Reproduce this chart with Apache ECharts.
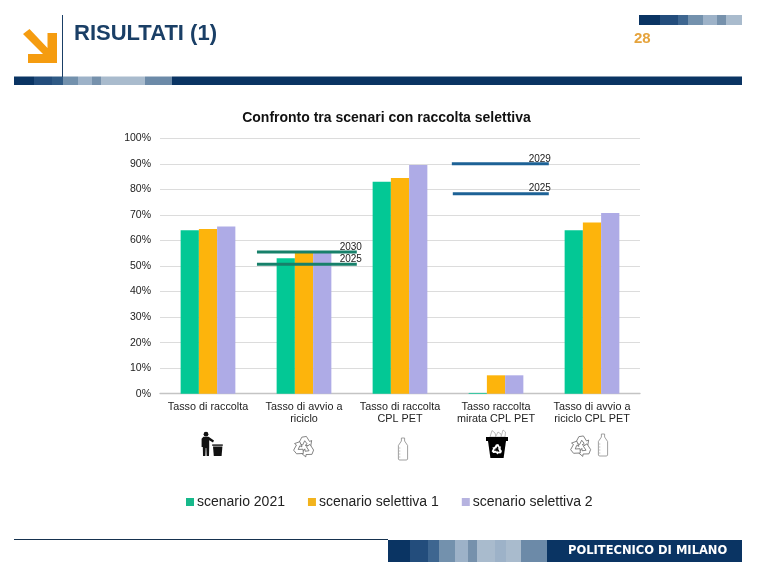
<!DOCTYPE html>
<html>
<head>
<meta charset="utf-8">
<style>
  html, body { margin: 0; padding: 0; background: #fff; }
  #chart { width: 759px; height: 575px; }
</style>
<script src="https://cdn.jsdelivr.net/npm/echarts@6/dist/echarts.min.js"></script>
</head>
<body>
<div id="chart"></div>
<script>
// Collection and recycling rates per scenario (%)
var categories = [
  'Tasso di raccolta',
  'Tasso di avvio a\nriciclo',
  'Tasso di raccolta\nCPL PET',
  'Tasso raccolta\nmirata CPL PET',
  'Tasso di avvio a\nriciclo CPL PET'
];
var scenario2021 = [64, 53, 83, 0.3, 64];
var selettiva1 = [64.5, 55.5, 84.5, 7.2, 67];
var selettiva2 = [65.5, 55.5, 89.5, 7.2, 70.8];
var seriesNames = ['scenario 2021', 'scenario selettiva 1', 'scenario selettiva 2'];

// Regulatory targets: [label, value %, start and end along the category scale]
var recyclingTarget2030 = ['2030', 55.5, 1.01, 2.05];
var recyclingTarget2025 = ['2025', 50.7, 1.01, 2.05];
var petTarget2029 = ['2029', 90, 3.04, 4.05];
var petTarget2025 = ['2025', 78.3, 3.05, 4.05];

var GREEN = '#03c895', ORANGE = '#fdb40c', PURPLE = '#aeabe6';
var NAVY = '#0a3463';
var FONT = '"Liberation Sans", Arial, sans-serif';

function barSeries(name, values, color) {
  return {
    name: name,
    type: 'bar',
    data: values,
    barGap: 0,
    barCategoryGap: '43%',
    itemStyle: { color: color },
    z: 2
  };
}

function targetSeries(target, color, labelShift) {
  return {
    name: 'Target ' + target[0],
    type: 'line',
    xAxisIndex: 1,
    symbol: 'circle',
    symbolSize: 0.1,
    showSymbol: true,
    silent: true,
    z: 5,
    itemStyle: { color: color },
    lineStyle: { color: color, width: 3, cap: 'butt' },
    data: [
      [target[2], target[1]],
      {
        value: [target[3], target[1]],
        label: {
          show: true,
          position: 'top',
          formatter: target[0],
          offset: [labelShift, 5],
          fontFamily: FONT,
          fontSize: 10,
          color: '#222'
        }
      }
    ]
  };
}

// Segmented bands of the slide frame
function band(stops, y, h) {
  var out = [];
  for (var i = 0; i < stops.length; i++) {
    out.push({
      type: 'rect',
      silent: true,
      shape: { x: stops[i][0], y: y, width: stops[i][1] - stops[i][0], height: h },
      style: { fill: stops[i][2] }
    });
  }
  return out;
}

function place(points, x, y, s) {
  return points.map(function (p) { return [x + p[0] * s, y + p[1] * s]; });
}

function poly(points, style) {
  return { type: 'polygon', silent: true, shape: { points: points }, style: style };
}

// Three chasing arrows turned around a common centre
function recycleIcon(cx, cy, s, style) {
  var arrow = [
    [-4.4, -3.2], [-1.8, -8.2], [2, -8.8], [4.6, -4.6], [6.4, -5.4],
    [5.6, -0.8], [1, -1.4], [2.6, -2.6], [0.6, -5.2], [-1.2, -1.6]
  ];
  var out = [];
  for (var k = 0; k < 3; k++) {
    var a = k * 2 * Math.PI / 3;
    out.push(poly(arrow.map(function (p) {
      return [
        cx + s * (p[0] * Math.cos(a) - p[1] * Math.sin(a)),
        cy + s * (p[0] * Math.sin(a) + p[1] * Math.cos(a))
      ];
    }), style));
  }
  return out;
}

function bottleIcon(x, y, s) {
  var outline = [
    [3.4, 0], [6.6, 0], [6.6, 3], [9.6, 7.5], [9.6, 21], [8.8, 22],
    [1.2, 22], [0.4, 21], [0.4, 7.5], [3.4, 3]
  ];
  var out = [poly(place(outline, x, y, s), { fill: '#fff', stroke: '#888', lineWidth: 0.8 })];
  [10, 13, 16, 19].forEach(function (ly) {
    out.push({
      type: 'line', silent: true,
      shape: { x1: x + 0.6 * s, y1: y + ly * s, x2: x + 2.4 * s, y2: y + ly * s },
      style: { stroke: '#aaa', lineWidth: 0.7 }
    });
  });
  return out;
}

function personIcon(x, y) {
  var dark = { fill: '#111' };
  var body = [
    [1.4, 4.8], [6.6, 4.8], [12, 8.6], [11, 10.4], [7.2, 8.2], [7.2, 15],
    [7, 24], [4.6, 24], [4.3, 16], [3.7, 16], [3.4, 24], [1, 24],
    [0.8, 15], [-0.4, 15], [-0.4, 6.8]
  ];
  var can = [[11, 14.4], [20.4, 14.4], [19.6, 24], [11.8, 24]];
  var rim = [[10.2, 12.4], [20.8, 12.4], [20.8, 13.8], [10.2, 13.8]];
  return [
    { type: 'circle', silent: true, shape: { cx: x + 4, cy: y + 2.2, r: 2.4 }, style: dark },
    poly(place(body, x, y, 1), dark),
    poly(place(can, x, y, 1), dark),
    poly(place(rim, x, y, 1), dark)
  ];
}

function binIcon(x, y) {
  var tub = [[2, 4], [20, 4], [17.6, 21], [4.4, 21]];
  var rim = [[0, 0], [22, 0], [22, 4], [0, 4]];
  var litter = [
    [[4, 0], [6, -6.5], [9, -4], [10, 0]],
    [[9.5, 0], [12, -5], [15, -3], [15.5, 0]],
    [[15, 0], [17, -7], [19.5, -5], [19, 0]]
  ];
  var out = litter.map(function (l) {
    return poly(place(l, x, y, 1), { fill: '#fff', stroke: '#aaa', lineWidth: 0.8 });
  });
  out.push(poly(place(tub, x, y, 1), { fill: '#000' }));
  out.push(poly(place(rim, x, y, 1), { fill: '#000' }));
  return out.concat(recycleIcon(x + 11, y + 12.5, 0.62, { fill: '#fff' }));
}

var recycleStyle = { fill: '#fff', stroke: '#666', lineWidth: 0.8 };

var frame = [].concat(
  band([
    [14, 34, '#0a3463'], [34, 52, '#234d7c'], [52, 63, '#2f5a85'], [63, 78, '#7391ad'],
    [78, 92, '#9db2c8'], [92, 101, '#7691ac'], [101, 145, '#a9bbcd'], [145, 172, '#6c8aa8'],
    [172, 742, NAVY]
  ], 76.5, 8.5),
  band([
    [639, 660, '#0a3463'], [660, 678, '#234d7c'], [678, 688, '#3e6690'], [688, 703, '#7391ad'],
    [703, 717, '#9db2c8'], [717, 726, '#7691ac'], [726, 742, '#a9bbcd']
  ], 15, 10),
  band([
    [388, 410, '#0a3463'], [410, 428, '#234d7c'], [428, 439, '#3e6690'], [439, 455, '#7391ad'],
    [455, 468, '#9db2c8'], [468, 477, '#7691ac'], [477, 495, '#a9bbcd'], [495, 506, '#9db2c8'],
    [506, 521, '#a9bbcd'], [521, 547, '#6c8aa8'], [547, 742, NAVY]
  ], 540, 22),
  [
    { type: 'line', silent: true, shape: { x1: 62.5, y1: 15, x2: 62.5, y2: 77 }, style: { stroke: '#1a3f66', lineWidth: 1 } },
    { type: 'line', silent: true, shape: { x1: 14, y1: 539.5, x2: 388, y2: 539.5 }, style: { stroke: '#16324f', lineWidth: 1 } },
    poly([[23, 34], [29.5, 29], [47.5, 48], [47.5, 33], [57, 33], [57, 63], [28, 63], [28, 54], [43, 54]], { fill: '#f59c10' }),
    { type: 'text', silent: true, style: { x: 74, y: 34, text: 'RISULTATI (1)', fill: '#1a3f66', font: 'bold 22px ' + FONT, textVerticalAlign: 'middle' } },
    { type: 'text', silent: true, style: { x: 634, y: 38.5, text: '28', fill: '#e5a33c', font: 'bold 15px ' + FONT, textVerticalAlign: 'middle' } },
    { type: 'text', silent: true, style: { x: 568, y: 551.5, text: 'POLITECNICO DI MILANO', fill: '#fff', font: 'bold 11.5px "DejaVu Sans", sans-serif', textVerticalAlign: 'middle' } }
  ],
  personIcon(202, 432),
  recycleIcon(304, 447, 1.2, recycleStyle),
  bottleIcon(398, 438, 1),
  binIcon(486, 437),
  recycleIcon(581, 446.5, 1.2, recycleStyle),
  bottleIcon(598, 434, 1)
);

var chart = echarts.init(document.getElementById('chart'), null, { renderer: 'canvas' });
chart.setOption({
  animation: false,
  backgroundColor: '#fff',
  title: {
    text: 'Confronto tra scenari con raccolta selettiva',
    left: 386.5,
    top: 111,
    padding: 0,
    textAlign: 'center',
    textStyle: { fontFamily: FONT, fontWeight: 'bold', fontSize: 14, color: '#111' }
  },
  legend: {
    data: [
      { name: seriesNames[0], itemStyle: { color: '#17b98b' } },
      { name: seriesNames[1], itemStyle: { color: '#f2b31d' } },
      { name: seriesNames[2], itemStyle: { color: '#b6b3e0' } }
    ],
    left: 181,
    top: 490,
    itemWidth: 8,
    itemHeight: 8,
    itemGap: 23,
    icon: 'rect',
    textStyle: { fontFamily: FONT, fontSize: 14, color: '#222', padding: [0, 0, 0, -2] }
  },
  grid: { left: 160, top: 138.3, width: 480, height: 255.4 },
  xAxis: [
    {
      type: 'category',
      data: categories,
      axisTick: { show: false },
      axisLine: { lineStyle: { color: '#c4c4c4', width: 1.4 } },
      axisLabel: {
        interval: 0,
        fontFamily: FONT,
        fontSize: 10.8,
        lineHeight: 12,
        color: '#222',
        margin: 7
      }
    },
    { type: 'value', min: 0, max: 5, show: false }
  ],
  yAxis: {
    type: 'value',
    min: 0,
    max: 100,
    interval: 10,
    axisLine: { show: false },
    axisTick: { show: false },
    axisLabel: { formatter: '{value}%', fontFamily: FONT, fontSize: 10.5, color: '#222', margin: 9 },
    splitLine: { lineStyle: { color: '#dcdcdc', width: 1.2 } }
  },
  series: [
    barSeries(seriesNames[0], scenario2021, GREEN),
    barSeries(seriesNames[1], selettiva1, ORANGE),
    barSeries(seriesNames[2], selettiva2, PURPLE),
    targetSeries(recyclingTarget2030, '#17806a', -6),
    targetSeries(recyclingTarget2025, '#17806a', -6),
    targetSeries(petTarget2029, '#1d6296', -9),
    targetSeries(petTarget2025, '#1d6296', -9)
  ],
  graphic: { elements: frame }
});
</script>
</body>
</html>
